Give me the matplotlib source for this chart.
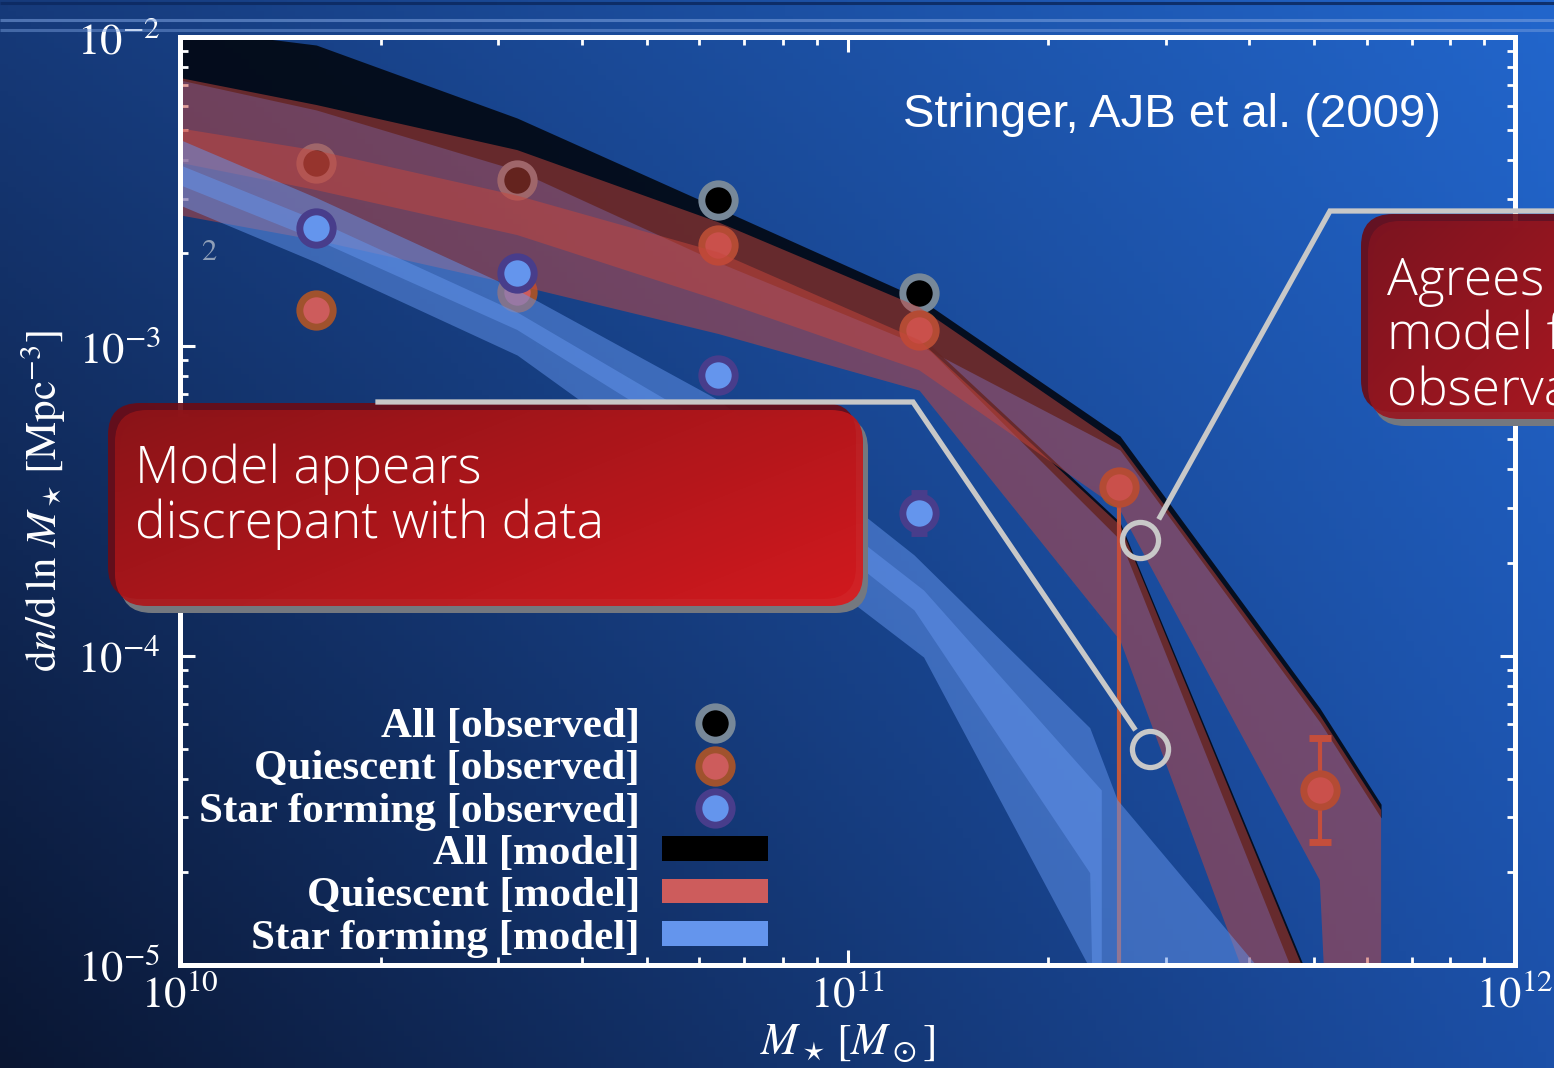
import numpy as np
import matplotlib
matplotlib.use("Agg")
import matplotlib.pyplot as plt
import matplotlib.colors as mcolors
from matplotlib.patches import FancyBboxPatch, Patch
from matplotlib.lines import Line2D

plt.rcParams['mathtext.fontset'] = 'stix'
plt.rcParams['font.family'] = ['STIXGeneral', 'DejaVu Serif']

# ---------------- data ----------------
mass_obs = [1.6e10, 3.2e10, 6.4e10, 1.28e11, 2.55e11, 5.1e11]
all_obs = [3.92e-3, 3.45e-3, 2.97e-3, 1.49e-3]
q_obs = [1.31e-3, 1.50e-3, 2.13e-3, 1.13e-3, 3.51e-4, 3.68e-5]
q_err_lo = [0, 0, 0, 0, 3.45e-4, 1.19e-5]
q_err_hi = [0, 0, 0, 0, 0, 1.74e-5]
sf_obs = [2.41e-3, 1.73e-3, 8.07e-4, 2.89e-4]
sf_err_lo = [0, 0, 0, 0.40e-4]
sf_err_hi = [0, 0, 0, 0.47e-4]

# model bands (All)
m_all = [1.0e10, 1.6e10, 3.2e10, 6.4e10, 1.28e11, 2.56e11, 5.1e11, 6.3e11]
all_hi = [1.07e-2, 9.42e-3, 5.47e-3, 2.80e-3, 1.43e-3, 5.13e-4, 6.77e-5, 3.31e-5]
all_lo = [7.26e-3, 5.81e-3, 3.71e-3, 1.87e-3, 1.01e-3, 4.62e-4, 6.10e-5, 2.99e-5]
m_all2 = [1.28e11, 2.56e11, 5.1e11]
all2_hi = [1.09e-3, 2.70e-4, 7.42e-6]
all2_lo = [1.05e-3, 2.37e-4, 5.71e-6]

# model bands (Quiescent)
m_q = [1.0e10, 1.6e10, 3.2e10, 6.4e10, 1.28e11, 2.56e11, 5.1e11, 6.3e11, 6.32e11]
q_hi_a = [7.37e-3, 6.03e-3, 4.31e-3, 2.52e-3, 1.34e-3, 4.80e-4, 6.43e-5, 3.17e-5, 1e-9]
q_lo_a = [3.92e-3, 3.20e-3, 2.29e-3, 1.41e-3, 8.38e-4, 2.96e-4, 1.88e-5, 1e-9, 1e-9]
m_q2 = [1.0e10, 1.6e10, 3.2e10, 6.4e10, 1.28e11, 2.56e11, 5.1e11]
q_hi_b = [5.08e-3, 4.31e-3, 3.08e-3, 2.02e-3, 1.05e-3, 2.64e-4, 7.15e-6]
q_lo_b = [2.66e-3, 2.21e-3, 1.58e-3, 1.10e-3, 7.22e-4, 1.12e-4, 2.02e-6]

# model bands (Star forming)
m_sf_a = [1.0e10, 1.6e10, 3.2e10, 6.4e10, 1.26e11, 2.31e11, 2.54e11, 4.11e11]
sf_hi_a = [4.65e-3, 3.02e-3, 1.52e-3, 6.71e-4, 2.11e-4, 5.83e-5, 3.41e-5, 9.9e-6]
sf_lo_a = [3.32e-3, 2.21e-3, 1.13e-3, 4.45e-4, 1.40e-4, 1.98e-5, 1e-9, 1e-9]
m_sf_b = [1.0e10, 1.6e10, 3.2e10, 6.4e10, 1.3e11, 2.4e11]
sf_hi_b = [3.86e-3, 2.56e-3, 1.29e-3, 5.36e-4, 1.63e-4, 3.68e-5]
sf_lo_b = [2.86e-3, 1.87e-3, 9.37e-4, 3.19e-4, 9.9e-5, 8.3e-6]

# callout targets
callout_x = [2.74e11, 2.84e11]
callout_y = [2.37e-4, 5.0e-5]

legend_labels = ['All [observed]', 'Quiescent [observed]', 'Star forming [observed]',
                 'All [model]', 'Quiescent [model]', 'Star forming [model]']

C_ALL, C_ALL_E = 'black', '#778899'
C_Q, C_Q_E = '#CD5C5C', '#A0522D'
C_SF, C_SF_E = '#6495ED', '#483D8B'

W, H = 1554, 1068
fig = plt.figure(figsize=(W / 100, H / 100), dpi=100)

# ---------------- background ----------------
bg = fig.add_axes([0, 0, 1, 1], zorder=0)
bg.set_axis_off()
n = 200
u = np.linspace(0, 1, n)[None, :]
v = np.linspace(0, 1, n)[:, None]
TL, TR, BL, BR = [np.array(mcolors.to_rgb(c)) for c in ('#163a7a', '#2266cc', '#0a1632', '#1c50a8')]
img = (((1 - u) * (1 - v))[..., None] * TL + (u * (1 - v))[..., None] * TR
       + ((1 - u) * v)[..., None] * BL + (u * v)[..., None] * BR)
bg.imshow(img, extent=(0, 1, 0, 1), aspect='auto', origin='upper')
bg.set_xlim(0, 1); bg.set_ylim(0, 1)

# ---------------- main axes ----------------
ax = fig.add_axes([180 / W, 1 - 965 / H, (1515 - 180) / W, (965 - 37) / H], zorder=2)
ax.set_facecolor('none')
ax.set_xscale('log'); ax.set_yscale('log')
ax.set_xlim(1e10, 1e12); ax.set_ylim(1e-5, 1e-2)

ax.fill_between(m_all, all_lo, all_hi, color='#02060e', alpha=0.88, lw=0, zorder=1)
ax.fill_between(m_all2, all2_lo, all2_hi, color='#02060e', alpha=0.88, lw=0, zorder=1)

ax.plot(mass_obs[:4], all_obs, ls='none', marker='o', ms=24, mfc=C_ALL, mec=C_ALL_E, mew=5, zorder=2)
ax.errorbar(mass_obs, q_obs, yerr=[q_err_lo, q_err_hi], fmt='o', ms=24, mfc=C_Q, mec=C_Q_E, mew=5,
            ecolor='#c0583c', elinewidth=3, capsize=8, capthick=4, zorder=2)

ax.fill_between(m_q, q_lo_a, q_hi_a, color='#c8463c', alpha=0.5, lw=0, zorder=3)
ax.fill_between(m_q2, q_lo_b, q_hi_b, color='#c8463c', alpha=0.5, lw=0, zorder=3)

ax.fill_between(m_sf_a, sf_lo_a, sf_hi_a, color=C_SF, alpha=0.5, lw=0, zorder=4)
ax.fill_between(m_sf_b, sf_lo_b, sf_hi_b, color=C_SF, alpha=0.5, lw=0, zorder=4)

ax.errorbar(mass_obs[:4], sf_obs, yerr=[sf_err_lo, sf_err_hi], fmt='o', ms=24, mfc=C_SF, mec=C_SF_E,
            mew=5, ecolor=C_SF_E, elinewidth=3, capsize=6, capthick=4, zorder=5)

ax.plot(callout_x, callout_y, ls='none', marker='o', ms=26, mfc='none', mec='#c8c8c8', mew=3.8,
        zorder=7, clip_on=False)

ax.text(1.075e10, 2e-3, '2', color='#8f9fb8', fontsize=22, va='center', ha='left', zorder=6)

for s in ax.spines.values():
    s.set_color('white'); s.set_linewidth(3.6); s.set_zorder(8)
ax.tick_params(which='both', direction='in', top=True, right=True, colors='white', labelcolor='white')
ax.tick_params(which='major', length=11, width=2.2, labelsize=32)
ax.tick_params(which='minor', length=6, width=2.0)
ax.tick_params(axis='y', which='both', pad=14)
ax.tick_params(axis='x', which='both', pad=7)

ax.set_xlabel(r'$M_\star\,[M_\odot]$', fontsize=32, color='white')
ax.set_ylabel(r'$\mathrm{d}n/\mathrm{d}\,\ln\,M_\star\,[\mathrm{Mpc}^{-3}]$', fontsize=31, color='white')
ax.xaxis.set_label_coords(0.5, -0.062)
ax.yaxis.set_label_coords(-0.084, 0.5)

handles = [Line2D([], [], ls='none', marker='o', ms=24, mfc=C_ALL, mec=C_ALL_E, mew=5),
           Line2D([], [], ls='none', marker='o', ms=24, mfc=C_Q, mec=C_Q_E, mew=5),
           Line2D([], [], ls='none', marker='o', ms=24, mfc=C_SF, mec=C_SF_E, mew=5),
           Patch(facecolor=C_ALL), Patch(facecolor=C_Q), Patch(facecolor=C_SF)]
leg = ax.legend(handles, legend_labels, loc='lower right', bbox_to_anchor=(0.4404, 0.008),
                markerfirst=False, frameon=False, borderpad=0, borderaxespad=0,
                handlelength=2.47, handleheight=0.5, handletextpad=0.5, labelspacing=0.1,
                prop={'family': ['Liberation Serif'], 'weight': 'bold', 'size': 31})
for t in leg.get_texts():
    t.set_color('white')
leg.set_zorder(9)

# ---------------- overlay (slide decorations) ----------------
ov = fig.add_axes([0, 0, 1, 1], zorder=5)
ov.set_xlim(0, W); ov.set_ylim(H, 0)
ov.set_autoscale_on(False)
ov.set_axis_off()
ov.patch.set_alpha(0)

for yy, c, a in [(3, '#0c2a62', 0.9), (20, '#7da2e0', 0.55), (30, '#7da2e0', 0.45)]:
    ov.plot([0, W], [yy, yy], color=c, lw=2.2, alpha=a, solid_capstyle='butt')


def grad(c0, c1, wx=0.6, wy=0.4, n=64):
    xx, yy = np.meshgrid(np.linspace(0, 1, n), np.linspace(0, 1, n))
    t = (wx * xx + wy * yy)[..., None]
    a0 = np.array(mcolors.to_rgb(c0)); a1 = np.array(mcolors.to_rgb(c1))
    return a0 + (a1 - a0) * t


def callout_box(x0, y0, x1, y1, c0, c1, r=32):
    w, h = x1 - x0, y1 - y0
    style = f'round,pad=0,rounding_size={r}'
    ov.add_patch(FancyBboxPatch((x0 + 5, y0 + 7), w, h, boxstyle=style, fc='#74787f', ec='none', zorder=1))
    ov.add_patch(FancyBboxPatch((x0 - 7, y0 - 7), w, h, boxstyle=style, fc='#6a0c16', ec='none',
                                alpha=0.92, zorder=2))
    main = FancyBboxPatch((x0, y0), w, h, boxstyle=style, fc='none', ec='none', zorder=3)
    ov.add_patch(main)
    im = ov.imshow(grad(c0, c1), extent=(x0, x1, y1, y0), origin='upper', aspect='auto',
                   alpha=0.92, zorder=3, interpolation='bilinear')
    im.set_clip_path(main)


callout_box(115, 410, 863, 606, '#8e1418', '#dc1a1e')
callout_box(1368, 221, 1660, 419, '#7e1420', '#b81a22')

ov.set_xlim(0, W); ov.set_ylim(H, 0)

lc = '#c8c8c8'
ov.plot([378, 913, 1134], [402, 402, 728], color=lc, lw=3.8, zorder=4, solid_joinstyle='miter')
ov.plot([W, 1330, 1160], [211, 211, 517], color=lc, lw=3.8, zorder=4, solid_joinstyle='miter')

tf = dict(color='white', fontsize=37, family=['Open Sans', 'DejaVu Sans'], fontweight='light',
          va='baseline', ha='left', zorder=6)
ov.text(135, 483, 'Model appears', **tf)
ov.text(135, 538, 'discrepant with data', **tf)
ov.text(1387, 295, 'Agrees with', **tf)
ov.text(1387, 350, 'model for', **tf)
ov.text(1387, 405, 'observations', **tf)

ov.text(903, 127, 'Stringer, AJB et al. (2009)', color='white', fontsize=34,
        family=['Liberation Sans Narrow', 'Liberation Sans'], va='baseline', ha='left', zorder=6)

fig.savefig('out.png', dpi=100)
